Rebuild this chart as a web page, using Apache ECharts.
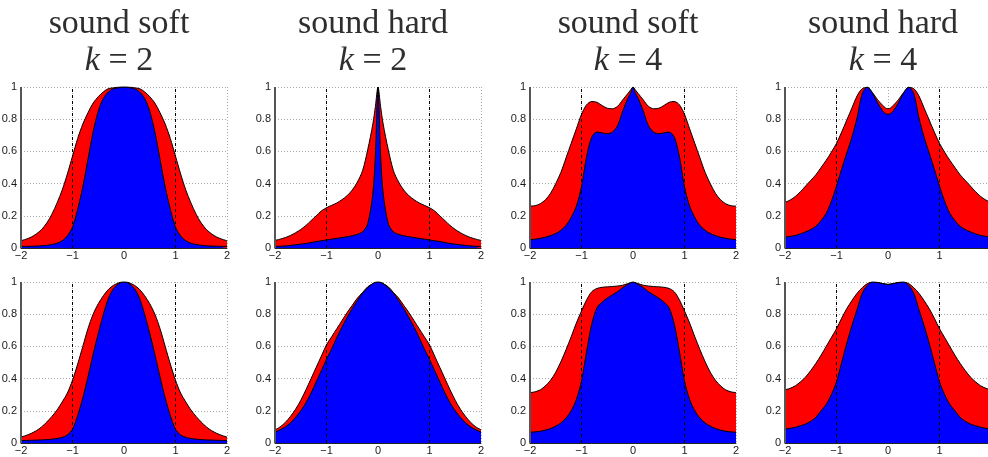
<!DOCTYPE html>
<html>
<head>
<meta charset="utf-8">
<script src="https://cdn.jsdelivr.net/npm/echarts@6/dist/echarts.min.js"></script>
<style>
  html, body { margin: 0; padding: 0; background: #fff; }
  #main { width: 988px; height: 457px; }
</style>
</head>
<body>
<div id="main"></div>
<script>
// x positions shared by every curve
var xs = [-2, -1.9, -1.8, -1.7, -1.6, -1.5, -1.4, -1.3, -1.2, -1.1, -1, -0.9, -0.8, -0.7, -0.6, -0.5, -0.4, -0.3, -0.2, -0.1,
  -0.05, 0, 0.05,
  0.1, 0.2, 0.3, 0.4, 0.5, 0.6, 0.7, 0.8, 0.9, 1, 1.1, 1.2, 1.3, 1.4, 1.5, 1.6, 1.7, 1.8, 1.9, 2];

var titles = ['sound soft', 'sound hard', 'sound soft', 'sound hard'];
var waveNumbers = [2, 2, 4, 4];
var yTicks = [0, 0.2, 0.4, 0.6, 0.8, 1];
var xTicks = [-2, -1, 0, 1, 2];
var dashedAt = [-1, 1];

// top row: red = upper curve, blue = lower curve
var redSoft2 = [0.045,0.055,0.068,0.088,0.115,0.155,0.21,0.28,0.36,0.46,0.57,0.68,0.77,0.84,0.9,0.94,0.97,0.99,0.995,1, 1,1,1, 1,0.995,0.99,0.97,0.94,0.9,0.84,0.77,0.68,0.57,0.46,0.36,0.28,0.21,0.155,0.115,0.088,0.068,0.055,0.045];
var blueSoft2 = [0.01,0.01,0.011,0.012,0.014,0.017,0.022,0.03,0.045,0.075,0.13,0.24,0.38,0.55,0.72,0.85,0.93,0.97,0.99,0.995, 1,1,1, 0.995,0.99,0.97,0.93,0.85,0.72,0.55,0.38,0.24,0.13,0.075,0.045,0.03,0.022,0.017,0.014,0.012,0.011,0.01,0.01];
var redHard2 = [0.047,0.055,0.065,0.078,0.095,0.115,0.14,0.17,0.2,0.23,0.25,0.265,0.28,0.3,0.325,0.36,0.41,0.48,0.61,0.77, 0.88,1,0.88, 0.77,0.61,0.48,0.41,0.36,0.325,0.3,0.28,0.265,0.25,0.23,0.2,0.17,0.14,0.115,0.095,0.078,0.065,0.055,0.047];
var blueHard2 = [0.01,0.011,0.013,0.016,0.02,0.024,0.028,0.034,0.04,0.045,0.05,0.055,0.06,0.065,0.07,0.076,0.085,0.1,0.15,0.34, 0.58,1,0.58, 0.34,0.15,0.1,0.085,0.076,0.07,0.065,0.06,0.055,0.05,0.045,0.04,0.034,0.028,0.024,0.02,0.016,0.013,0.011,0.01];
var redSoft4 = [0.26,0.263,0.275,0.3,0.34,0.4,0.47,0.56,0.65,0.74,0.83,0.89,0.91,0.905,0.885,0.868,0.865,0.88,0.92,0.96, 0.98,1,0.98, 0.96,0.92,0.88,0.865,0.868,0.885,0.905,0.91,0.89,0.83,0.74,0.65,0.56,0.47,0.4,0.34,0.3,0.275,0.263,0.26];
var blueSoft4 = [0.052,0.055,0.06,0.067,0.077,0.09,0.11,0.14,0.19,0.26,0.38,0.57,0.69,0.72,0.715,0.71,0.72,0.76,0.85,0.93, 0.96,1,0.96, 0.93,0.85,0.76,0.72,0.71,0.715,0.72,0.69,0.57,0.38,0.26,0.19,0.14,0.11,0.09,0.077,0.067,0.06,0.055,0.052];
var redHard4 = [0.283,0.298,0.32,0.35,0.385,0.42,0.455,0.5,0.545,0.595,0.65,0.72,0.795,0.87,0.945,0.99,0.997,0.965,0.92,0.885, 0.87,0.865,0.87, 0.885,0.92,0.965,0.997,0.99,0.945,0.87,0.795,0.72,0.65,0.595,0.545,0.5,0.455,0.42,0.385,0.35,0.32,0.298,0.283];
var blueHard4 = [0.068,0.072,0.078,0.088,0.1,0.115,0.135,0.17,0.215,0.29,0.385,0.49,0.59,0.69,0.81,0.96,1,0.96,0.9,0.85, 0.835,0.83,0.835, 0.85,0.9,0.96,1,0.96,0.81,0.69,0.59,0.49,0.385,0.29,0.215,0.17,0.135,0.115,0.1,0.088,0.078,0.072,0.068];

// bottom row
var redSoft2b = [0.037,0.047,0.06,0.077,0.1,0.13,0.165,0.205,0.255,0.31,0.39,0.49,0.6,0.71,0.8,0.865,0.915,0.955,0.98,0.995, 1,1,1, 0.995,0.98,0.955,0.915,0.865,0.8,0.71,0.6,0.49,0.39,0.31,0.255,0.205,0.165,0.13,0.1,0.077,0.06,0.047,0.037];
var blueSoft2b = [0.015,0.016,0.017,0.018,0.019,0.021,0.024,0.028,0.035,0.05,0.085,0.17,0.28,0.41,0.55,0.68,0.8,0.9,0.96,0.99, 0.998,1,0.998, 0.99,0.96,0.9,0.8,0.68,0.55,0.41,0.28,0.17,0.085,0.05,0.035,0.028,0.024,0.021,0.019,0.018,0.017,0.016,0.015];
var redHard2b = [0.082,0.1,0.128,0.165,0.21,0.265,0.33,0.4,0.47,0.54,0.61,0.66,0.71,0.76,0.81,0.855,0.9,0.935,0.97,0.99, 0.998,1,0.998, 0.99,0.97,0.935,0.9,0.855,0.81,0.76,0.71,0.66,0.61,0.54,0.47,0.4,0.33,0.265,0.21,0.165,0.128,0.1,0.082];
var blueHard2b = [0.068,0.082,0.1,0.125,0.16,0.2,0.25,0.31,0.38,0.45,0.52,0.585,0.655,0.72,0.78,0.835,0.885,0.93,0.965,0.99, 0.998,1,0.998, 0.99,0.965,0.93,0.885,0.835,0.78,0.72,0.655,0.585,0.52,0.45,0.38,0.31,0.25,0.2,0.16,0.125,0.1,0.082,0.068];
var redSoft4b = [0.313,0.318,0.33,0.355,0.39,0.44,0.505,0.58,0.66,0.745,0.82,0.89,0.94,0.96,0.967,0.97,0.972,0.975,0.98,0.99, 0.995,1,0.995, 0.99,0.98,0.975,0.972,0.97,0.967,0.96,0.94,0.89,0.82,0.745,0.66,0.58,0.505,0.44,0.39,0.355,0.33,0.318,0.313];
var blueSoft4b = [0.067,0.069,0.073,0.08,0.09,0.105,0.125,0.155,0.2,0.27,0.385,0.57,0.74,0.84,0.875,0.9,0.92,0.94,0.965,0.985, 0.995,1,0.995, 0.985,0.965,0.94,0.92,0.9,0.875,0.84,0.74,0.57,0.385,0.27,0.2,0.155,0.125,0.105,0.09,0.08,0.073,0.069,0.067];
var redHard4b = [0.33,0.34,0.355,0.38,0.41,0.45,0.495,0.545,0.6,0.655,0.71,0.775,0.835,0.885,0.93,0.965,0.99,1,0.997,0.99, 0.987,0.985,0.987, 0.99,0.997,1,0.99,0.965,0.93,0.885,0.835,0.775,0.71,0.655,0.6,0.545,0.495,0.45,0.41,0.38,0.355,0.34,0.33];
var blueHard4b = [0.087,0.091,0.098,0.107,0.118,0.135,0.16,0.2,0.24,0.3,0.38,0.5,0.62,0.73,0.83,0.93,0.98,1,0.997,0.99, 0.987,0.985,0.987, 0.99,0.997,1,0.98,0.93,0.83,0.73,0.62,0.5,0.38,0.3,0.24,0.2,0.16,0.135,0.118,0.107,0.098,0.091,0.087];

var panels = [
  [redSoft2, blueSoft2], [redHard2, blueHard2], [redSoft4, blueSoft4], [redHard4, blueHard4],
  [redSoft2b, blueSoft2b], [redHard2b, blueHard2b], [redSoft4b, blueSoft4b], [redHard4b, blueHard4b]
];

var lefts = [21, 275, 530, 785];
var tops = [87, 282];
var plotW = 206, plotH = 161;

function pairs(ys) {
  return xs.map(function (x, i) { return [x, ys[i]]; });
}

var myChart = echarts.init(document.getElementById('main'));

var grid = [], xAxis = [], yAxis = [], series = [], title = [];
var serif = 'Liberation Serif';
var sans = 'Liberation Sans';
var titleColor = '#2e2e2e';

for (var c = 0; c < 4; c++) {
  var cx = lefts[c] + plotW / 2 - 10;
  title.push({
    text: titles[c], left: cx, top: 2, textAlign: 'center',
    textStyle: { fontFamily: serif, fontSize: 34, fontWeight: 'normal', color: titleColor }
  });
  title.push({
    text: '{i|k}{e| = }{n|' + waveNumbers[c] + '}', left: cx, top: 39, textAlign: 'center',
    textStyle: {
      fontFamily: serif, fontSize: 34, fontWeight: 'normal', color: titleColor,
      rich: {
        i: { fontFamily: serif, fontSize: 34, fontStyle: 'italic', color: titleColor },
        e: { fontFamily: serif, fontSize: 34, color: titleColor },
        n: { fontFamily: serif, fontSize: 34, color: titleColor }
      }
    }
  });
}

for (var p = 0; p < panels.length; p++) {
  var col = p % 4, row = Math.floor(p / 4);
  grid.push({ left: lefts[col], top: tops[row], width: plotW, height: plotH, outerBoundsMode: 'none', containLabel: false });
  xAxis.push({
    gridIndex: p, type: 'value', min: xTicks[0], max: xTicks[xTicks.length - 1], interval: 1,
    axisLine: { show: true, onZero: false, lineStyle: { color: '#222', width: 1 } },
    axisTick: { show: false },
    axisLabel: {
      margin: 2, fontSize: 11, color: '#1a1a1a', fontFamily: sans,
      formatter: function (v) { return v < 0 ? '\u2212' + (-v) : String(v); }
    },
    splitLine: { show: true, lineStyle: { color: '#a8a8a8', type: [1, 2], width: 1 } }
  });
  yAxis.push({
    gridIndex: p, type: 'value', min: yTicks[0], max: yTicks[yTicks.length - 1], interval: 0.2,
    axisLine: { show: false, onZero: false },
    axisTick: { show: false },
    axisLabel: { margin: 4, fontSize: 11, color: '#1a1a1a', fontFamily: sans },
    splitLine: { show: true, lineStyle: { color: '#a8a8a8', type: [1, 2], width: 1 } }
  });
  series.push({
    type: 'line', xAxisIndex: p, yAxisIndex: p, data: pairs(panels[p][0]),
    smooth: 0.3, showSymbol: false, silent: true,
    lineStyle: { color: '#000', width: 1 },
    areaStyle: { color: '#ff0000', opacity: 1 }
  });
  series.push({
    type: 'line', xAxisIndex: p, yAxisIndex: p, data: pairs(panels[p][1]),
    smooth: 0.3, showSymbol: false, silent: true,
    lineStyle: { color: '#000', width: 1 },
    areaStyle: { color: '#0000ff', opacity: 1 },
    markLine: {
      silent: true, symbol: 'none', animation: false,
      label: { show: false },
      lineStyle: { color: '#000', type: [3, 3], width: 1 },
      data: dashedAt.map(function (v) { return { xAxis: v }; }).concat([
        // left axis line drawn above the fills
        { xAxis: xTicks[0], lineStyle: { type: 'solid', color: '#555', width: 2 } }
      ])
    }
  });
}

var option = {
  animation: false,
  backgroundColor: '#fff',
  title: title,
  grid: grid,
  xAxis: xAxis,
  yAxis: yAxis,
  series: series
};

myChart.setOption(option);
</script>
</body>
</html>
